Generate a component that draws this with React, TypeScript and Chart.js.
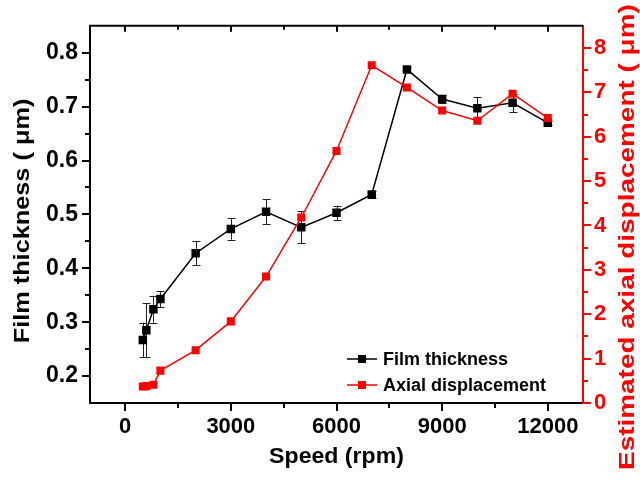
import React, { useEffect, useRef } from 'react';
import { Chart, registerables } from 'chart.js';

Chart.register(...registerables);

const speeds = [500, 600, 800, 1000, 2000, 3000, 4000, 5000, 6000, 7000, 8000, 9000, 10000, 11000, 12000];
const filmThickness = [0.267, 0.285, 0.324, 0.343, 0.428, 0.473, 0.505, 0.476, 0.503, 0.537, 0.769, 0.714, 0.697, 0.707, 0.670];
const filmError = [0.032, 0.05, 0.025, 0.015, 0.022, 0.02, 0.023, 0.03, 0.013, 0.006, 0.004, 0.007, 0.02, 0.017, 0.004];
const axialDisplacement = [0.37, 0.38, 0.41, 0.73, 1.19, 1.84, 2.85, 4.18, 5.68, 7.61, 7.11, 6.59, 6.36, 6.97, 6.42];

const xTicks = [0, 3000, 6000, 9000, 12000];
const xMinorTicks = [1500, 4500, 7500, 10500];
const leftTicks = [0.2, 0.3, 0.4, 0.5, 0.6, 0.7, 0.8];
const leftMinorTicks = [0.25, 0.35, 0.45, 0.55, 0.65, 0.75];
const rightTicks = [0, 1, 2, 3, 4, 5, 6, 7, 8];
const rightMinorTicks = [0.5, 1.5, 2.5, 3.5, 4.5, 5.5, 6.5, 7.5];

const FONT = "'Liberation Sans', Arial, sans-serif";
const RED = '#ff0000';

const decorPlugin = {
  id: 'decor',
  beforeDatasetsDraw(chart: any) {
    const { ctx, scales } = chart;
    const x = scales.x;
    const y = scales.y;
    ctx.save();
    ctx.strokeStyle = '#222';
    ctx.lineWidth = 1;
    speeds.forEach((s, i) => {
      const e = filmError[i];
      if (!e) return;
      const px = Math.round(x.getPixelForValue(s)) + 0.5;
      const top = y.getPixelForValue(filmThickness[i] + e);
      const bot = y.getPixelForValue(filmThickness[i] - e);
      ctx.beginPath();
      ctx.moveTo(px, top);
      ctx.lineTo(px, bot);
      ctx.moveTo(px - 4, Math.round(top) + 0.5);
      ctx.lineTo(px + 4, Math.round(top) + 0.5);
      ctx.moveTo(px - 4, Math.round(bot) + 0.5);
      ctx.lineTo(px + 4, Math.round(bot) + 0.5);
      ctx.stroke();
    });
    ctx.restore();
  },
  afterDraw(chart: any) {
    const { ctx, chartArea: a, scales } = chart;
    const x = scales.x;
    const y = scales.y;
    const y2 = scales.y2;
    const line = (x1: number, y1: number, x2: number, y2v: number) => {
      ctx.beginPath();
      ctx.moveTo(x1, y1);
      ctx.lineTo(x2, y2v);
      ctx.stroke();
    };
    ctx.save();
    ctx.lineWidth = 2;
    ctx.strokeStyle = '#000';
    // top frame
    line(a.left - 1, a.top, a.right, a.top);
    // bottom ticks (outward) and top ticks (inward)
    xTicks.forEach((v) => {
      const p = Math.round(x.getPixelForValue(v));
      line(p, a.bottom, p, a.bottom + 8);
      line(p, a.top, p, a.top + 6);
    });
    xMinorTicks.forEach((v) => {
      const p = Math.round(x.getPixelForValue(v));
      line(p, a.bottom, p, a.bottom + 5);
      line(p, a.top, p, a.top + 4);
    });
    // left ticks
    leftTicks.forEach((v) => {
      const p = Math.round(y.getPixelForValue(v));
      line(a.left, p, a.left - 8, p);
    });
    leftMinorTicks.forEach((v) => {
      const p = Math.round(y.getPixelForValue(v));
      line(a.left, p, a.left - 5, p);
    });
    // right ticks
    ctx.strokeStyle = RED;
    rightTicks.forEach((v) => {
      const p = Math.round(y2.getPixelForValue(v));
      line(a.right, p, a.right + 8, p);
    });
    rightMinorTicks.forEach((v) => {
      const p = Math.round(y2.getPixelForValue(v));
      line(a.right, p, a.right + 5, p);
    });

    // titles
    ctx.fillStyle = '#000';
    ctx.font = `bold 22px ${FONT}`;
    ctx.textAlign = 'center';
    ctx.textBaseline = 'middle';
    ctx.save();
    ctx.translate((a.left + a.right) / 2, 457);
    ctx.scale(1.05, 1);
    ctx.fillText('Speed (rpm)', 0, 0);
    ctx.restore();

    ctx.save();
    ctx.translate(23, 221);
    ctx.rotate(-Math.PI / 2);
    ctx.scale(1.15, 1);
    ctx.fillText('Film thickness ( \u03bcm)', 0, 0);
    ctx.restore();

    ctx.save();
    ctx.fillStyle = RED;
    ctx.translate(628, 470);
    ctx.rotate(-Math.PI / 2);
    ctx.scale(1.27, 1);
    ctx.textAlign = 'left';
    ctx.fillText('Estimated axial displacement ( \u03bcm)', 0, 0);
    ctx.restore();

    // legend
    const entries = [
      { label: 'Film thickness', color: '#000', yPos: 359 },
      { label: 'Axial displacement', color: RED, yPos: 385 },
    ];
    entries.forEach((en) => {
      ctx.strokeStyle = en.color;
      ctx.fillStyle = en.color;
      ctx.lineWidth = 1.5;
      line(347, en.yPos, 377, en.yPos);
      ctx.fillRect(358, en.yPos - 4, 8, 8);
      ctx.fillStyle = '#000';
      ctx.font = `bold 18px ${FONT}`;
      ctx.textAlign = 'left';
      ctx.textBaseline = 'middle';
      ctx.fillText(en.label, 383, en.yPos + 1);
    });
    ctx.restore();
  },
};

export default function App() {
  const canvasRef = useRef<HTMLCanvasElement | null>(null);

  useEffect(() => {
    const canvas = canvasRef.current;
    if (!canvas) return;
    const chart = new Chart(canvas, {
      type: 'line',
      data: {
        datasets: [
          {
            label: 'Film thickness',
            data: speeds.map((s, i) => ({ x: s, y: filmThickness[i] })),
            yAxisID: 'y',
            borderColor: '#000',
            backgroundColor: '#000',
            borderWidth: 1.5,
            pointStyle: 'rect',
            pointRadius: 6,
            pointBorderWidth: 0,
            order: 1,
          },
          {
            label: 'Axial displacement',
            data: speeds.map((s, i) => ({ x: s, y: axialDisplacement[i] })),
            yAxisID: 'y2',
            borderColor: RED,
            backgroundColor: RED,
            borderWidth: 1.5,
            pointStyle: 'rect',
            pointRadius: 5.7,
            pointBorderWidth: 0,
            order: 0,
          },
        ],
      },
      options: {
        animation: false,
        responsive: false,
        maintainAspectRatio: false,
        layout: { padding: { top: 7, left: 0, right: 0, bottom: 0 } },
        plugins: { legend: { display: false }, tooltip: { enabled: false } },
        scales: {
          x: {
            type: 'linear',
            position: 'bottom',
            min: -1000,
            max: 13000,
            afterBuildTicks: (s: any) => {
              s.ticks = xTicks.map((v) => ({ value: v }));
            },
            afterFit: (s: any) => {
              s.height = 78;
            },
            grid: { drawOnChartArea: false, drawTicks: false },
            border: { display: true, color: '#000', width: 2 },
            ticks: {
              color: '#000',
              padding: 11,
              maxRotation: 0,
              font: { family: FONT, size: 22, weight: 'bold' },
              callback: (v: any) => String(v),
            },
          },
          y: {
            type: 'linear',
            position: 'left',
            min: 0.15,
            max: 0.85,
            afterBuildTicks: (s: any) => {
              s.ticks = leftTicks.map((v) => ({ value: v }));
            },
            afterFit: (s: any) => {
              s.width = 90;
            },
            grid: { drawOnChartArea: false, drawTicks: false },
            border: { display: true, color: '#000', width: 2 },
            ticks: {
              color: '#000',
              padding: 12,
              font: { family: FONT, size: 23, weight: 'bold' },
              callback: (v: any) => Number(v).toFixed(1),
            },
          },
          y2: {
            type: 'linear',
            position: 'right',
            min: 0,
            max: 8.5,
            afterBuildTicks: (s: any) => {
              s.ticks = rightTicks.map((v) => ({ value: v }));
            },
            afterFit: (s: any) => {
              s.width = 57;
            },
            grid: { drawOnChartArea: false, drawTicks: false },
            border: { display: true, color: RED, width: 2 },
            ticks: {
              color: RED,
              padding: 11,
              font: { family: FONT, size: 22, weight: 'bold' },
              callback: (v: any) => String(v),
            },
          },
        },
      },
      plugins: [decorPlugin],
    } as any);
    return () => chart.destroy();
  }, []);

  return (
    <div style={{ position: 'absolute', left: 0, top: 0, width: 640, height: 481, background: '#fff' }}>
      <canvas ref={canvasRef} width={640} height={481} style={{ display: 'block' }} />
    </div>
  );
}
